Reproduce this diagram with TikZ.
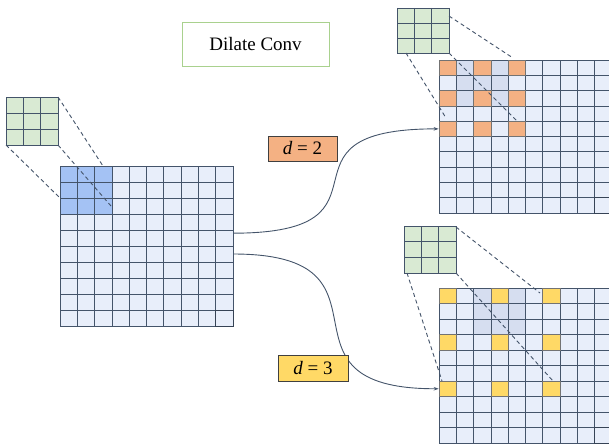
\documentclass[tikz,border=0pt]{standalone}
\usepackage{fontspec}
\setmainfont{Liberation Serif}
\usetikzlibrary{arrows.meta}
\definecolor{gridfill}{HTML}{E8EEFA}
\definecolor{hlblue}{HTML}{A4C2F4}
\definecolor{shadeC}{HTML}{D6DEF0}
\definecolor{kgreen}{HTML}{D9EAD3}
\definecolor{lineC}{HTML}{44546A}
\definecolor{orangeC}{HTML}{F4B183}
\definecolor{yellowC}{HTML}{FFD966}
\definecolor{greenB}{HTML}{A9D18E}
\tikzset{
  gridline/.style={draw=lineC, line width=0.7pt},
  darkcell/.style={draw=lineC!80!black, line width=0.9pt},
  dashline/.style={draw=lineC, line width=0.9pt, dash pattern=on 4pt off 3pt},
  curveline/.style={draw=lineC, line width=0.9pt, -{Stealth[length=5pt,width=3.5pt]}},
  lbl/.style={draw=black!75, line width=0.8pt, inner sep=0pt, font=\fontsize{19}{22}\selectfont},
  ocell/.style={draw=black!55, line width=0.7pt, fill=orangeC, inner sep=0pt, minimum width=17.3pt, minimum height=15.3pt},
  ycell/.style={draw=black!55, line width=0.7pt, fill=yellowC, inner sep=0pt, minimum width=17.3pt, minimum height=15.5pt},
}
\begin{document}
\begin{tikzpicture}[x=1pt,y=-1pt]
\useasboundingbox (0,0) rectangle (609,444);
\clip (0,0) rectangle (609,444);

% title
\node[draw=greenB, line width=0.9pt, minimum width=147pt, minimum height=44pt, inner sep=0pt,
      font=\fontsize{19}{22}\selectfont] (title) at (255.5,44) {Dilate Conv};

% ---- left input grid
\begin{scope}[shift={(60,166)}, x=17.3pt, y=-16pt]
  \fill[gridfill] (0,0) rectangle (10,10);
  \fill[hlblue] (0,0) rectangle (3,3);
  \foreach \i in {0,...,10} \draw[gridline] (\i,0) -- (\i,10) (0,\i) -- (10,\i);
  \draw[darkcell] (9,9) rectangle (10,10);
  \coordinate (Lout1) at (10,4.2);
  \coordinate (Lout2) at (10,5.5);
\end{scope}
% left kernel
\begin{scope}[shift={(6,97)}, x=17.3pt, y=-16pt]
  \fill[kgreen] (0,0) rectangle (3,3);
  \foreach \i in {0,...,3} \draw[gridline] (\i,0) -- (\i,3) (0,\i) -- (3,\i);
\end{scope}
\coordinate (lk1) at (58,97);  \coordinate (le1) at (103,166);
\coordinate (lk2) at (58,145); \coordinate (le2) at (111,206);
\coordinate (lk3) at (6,145);  \coordinate (le3) at (60,198);
\draw[dashline] (lk1) -- (le1) (lk2) -- (le2) (lk3) -- (le3);

% ---- top right grid (d=2)
\begin{scope}[shift={(439,60)}, x=17.3pt, y=-15.3pt]
  \fill[gridfill] (0,0) rectangle (10,10);
  \fill[shadeC] (1,0) rectangle (4,3);
  \foreach \i in {0,...,10} \draw[gridline] (\i,0) -- (\i,10) (0,\i) -- (10,\i);
  \draw[darkcell] (9,9) rectangle (10,10);
  \foreach \r in {0,2,4} \foreach \c in {0,2,4}
    \node[ocell] (T\r\c) at (\c+0.5,\r+0.5) {};
\end{scope}
\begin{scope}[shift={(397,8)}, x=17.3pt, y=-15pt]
  \fill[kgreen] (0,0) rectangle (3,3);
  \foreach \i in {0,...,3} \draw[gridline] (\i,0) -- (\i,3) (0,\i) -- (3,\i);
\end{scope}
\coordinate (tk1) at (449,16);  \coordinate (te1) at (513,58);
\coordinate (tk2) at (449,53);  \coordinate (te2) at (517,121);
\coordinate (tk3) at (406,53);  \coordinate (te3) at (446,118);
\draw[dashline] (tk1) -- (te1) (tk2) -- (te2) (tk3) -- (te3);

% ---- bottom right grid (d=3)
\begin{scope}[shift={(439,288)}, x=17.3pt, y=-15.5pt]
  \fill[gridfill] (0,0) rectangle (10,10);
  \fill[shadeC] (2,0) rectangle (5,3);
  \foreach \i in {0,...,10} \draw[gridline] (\i,0) -- (\i,10) (0,\i) -- (10,\i);
  \draw[darkcell] (9,9) rectangle (10,10);
  \foreach \r in {0,3,6} \foreach \c in {0,3,6}
    \node[ycell] (B\r\c) at (\c+0.5,\r+0.5) {};
\end{scope}
\begin{scope}[shift={(404,226)}, x=17.3pt, y=-15.7pt]
  \fill[kgreen] (0,0) rectangle (3,3);
  \foreach \i in {0,...,3} \draw[gridline] (\i,0) -- (\i,3) (0,\i) -- (3,\i);
\end{scope}
\coordinate (bk1) at (456,227);  \coordinate (be1) at (540,293);
\coordinate (bk2) at (456,273);  \coordinate (be2) at (553,381);
\coordinate (bk3) at (407,273);  \coordinate (be3) at (442,381);
\draw[dashline] (bk1) -- (be1) (bk2) -- (be2) (bk3) -- (be3);

% ---- connectors
\draw[curveline] (Lout1) .. controls (410,233) and (260,129) .. (T40.west);
\draw[curveline] (Lout2) .. controls (410,254) and (260,389) .. (B60.west);

% ---- labels
\node[lbl, fill=orangeC, minimum width=69pt, minimum height=25pt] (d2) at (302.5,148.5) {\textit{d} = 2};
\node[lbl, fill=yellowC, minimum width=70pt, minimum height=26pt] (d3) at (313,368) {\textit{d} = 3};
\end{tikzpicture}
\end{document}
